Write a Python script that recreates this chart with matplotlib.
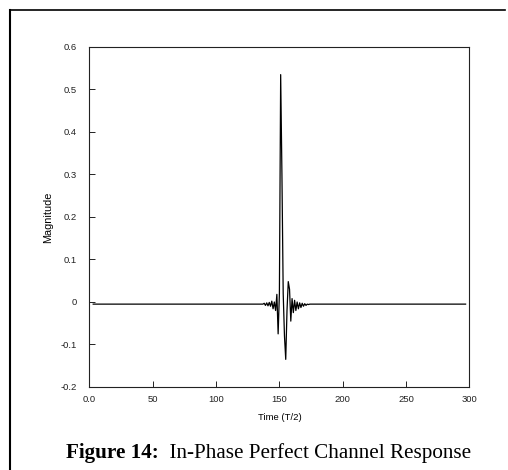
import matplotlib
matplotlib.use("Agg")
import matplotlib.pyplot as plt
from matplotlib.lines import Line2D
from matplotlib.text import Annotation

# Data: time (T/2) and magnitude samples
time = [3, 137, 138, 139, 140, 141, 142, 143, 144, 145, 146, 147, 148, 149, 150,
        151, 152, 153, 154, 155, 156, 157, 158, 159, 160, 161, 162, 163, 164, 165,
        166, 167, 168, 169, 170, 171, 172, 173, 174, 297]
magnitude = [-0.005, -0.005, -0.003, -0.008, -0.002, -0.009, -0.001, -0.010, 0.002, -0.016,
             0.000, -0.020, 0.018, -0.075, 0.020, 0.535, 0.300, 0.020, -0.080, -0.135,
             -0.020, 0.048, 0.030, -0.045, 0.008, -0.025, 0.004, -0.020, 0.000, -0.016,
             -0.002, -0.013, -0.003, -0.010, -0.004, -0.008, -0.005, -0.006, -0.005, -0.005]

xticks = [0, 50, 100, 150, 200, 250, 300]
xtick_labels = ["0.0", "50", "100", "150", "200", "250", "300"]
yticks = [-0.2, -0.1, 0, 0.1, 0.2, 0.3, 0.4, 0.5, 0.6]
ytick_labels = ["-0.2", "-0.1", "0", "0.1", "0.2", "0.3", "0.4", "0.5", "0.6"]

fig = plt.figure(figsize=(5.08, 4.70), dpi=100)
ax = fig.add_axes([0.176, 0.1766, 0.748, 0.7234])

ax.plot(time, magnitude, color="black", linewidth=0.9)
ax.set_xlim(0, 300)
ax.set_ylim(-0.2, 0.6)
ax.set_xticks(xticks)
ax.set_xticklabels(xtick_labels)
ax.set_yticks(yticks)
ax.set_yticklabels(ytick_labels)

sans = "Liberation Sans"
ax.tick_params(direction="in", length=4, width=0.7, labelsize=6.8, colors="#222222")
ax.tick_params(axis="y", pad=9)
ax.tick_params(axis="x", pad=6)
for lab in ax.get_xticklabels() + ax.get_yticklabels():
    lab.set_fontfamily(sans)
for s in ax.spines.values():
    s.set_linewidth(0.8)
    s.set_color("#222222")

ax.set_xlabel("Time (T/2)", fontsize=6.8, fontfamily=sans, labelpad=6)
ax.set_ylabel("Magnitude", fontsize=7.8, fontfamily=sans, labelpad=5)

# outer frame (left and top)
fig.add_artist(Line2D([0.020, 0.020], [0.0, 0.979], transform=fig.transFigure,
                      color="black", linewidth=1.5))
fig.add_artist(Line2D([0.020, 0.995], [0.979, 0.979], transform=fig.transFigure,
                      color="black", linewidth=1.2))

# caption
t1 = fig.text(0.130, 0.026, "Figure 14:", fontsize=15.2, fontweight="bold",
              fontfamily="Liberation Serif", ha="left", va="baseline")
fig.add_artist(Annotation("  In-Phase Perfect Channel Response",
               xy=(1, 0), xycoords=t1, va="bottom", ha="left", fontsize=15.2,
               fontfamily="Liberation Serif"))

fig.savefig("out.png", dpi=100)
